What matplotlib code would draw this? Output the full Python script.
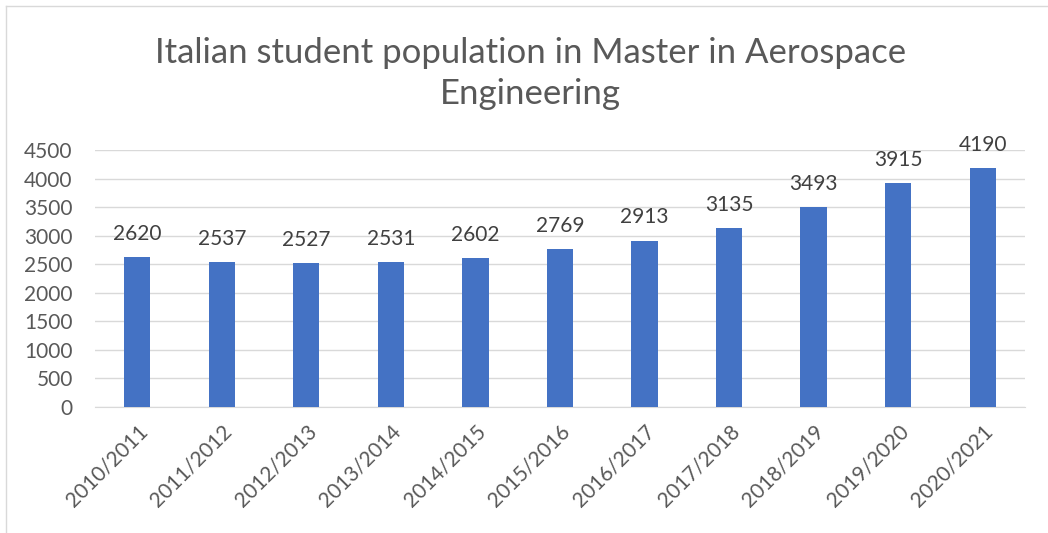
import matplotlib.pyplot as plt

years = ["2010/2011", "2011/2012", "2012/2013", "2013/2014", "2014/2015", "2015/2016",
         "2016/2017", "2017/2018", "2018/2019", "2019/2020", "2020/2021"]
students = [2620, 2537, 2527, 2531, 2602, 2769, 2913, 3135, 3493, 3915, 4190]
yticks = [0, 500, 1000, 1500, 2000, 2500, 3000, 3500, 4000, 4500]

plt.rcParams['font.family'] = ['Lato', 'DejaVu Sans']
text_col = '#595959'

fig = plt.figure(figsize=(10.48, 5.33), dpi=100)
ax = fig.add_axes([0.0906, 0.2364, 0.8874, 0.4822])

x = list(range(len(years)))
bars = ax.bar(x, students, width=0.31, color='#4472C4', zorder=3)
for xi, v in zip(x, students):
    ax.text(xi, v + 230, str(v), ha='center', va='bottom', fontsize=15, color='#404040')

ax.set_xlim(-0.5, len(years) - 0.5)
ax.set_ylim(0, 4500)
ax.set_yticks(yticks)
ax.set_xticks(x)
ax.set_xticklabels(years, rotation=45, ha='right', rotation_mode='anchor')
ax.tick_params(axis='both', length=0, colors=text_col, labelsize=15)
ax.tick_params(axis='x', pad=10)
ax.tick_params(axis='y', pad=16)
ax.grid(axis='y', color='#d9d9d9', linewidth=1, zorder=0)
for s in ['top', 'right', 'left']:
    ax.spines[s].set_visible(False)
ax.spines['bottom'].set_color('#d9d9d9')

fig.text(0.506, 0.862, "Italian student population in Master in Aerospace\nEngineering",
         ha='center', va='center', fontsize=25, color=text_col, linespacing=1.35)

# chart frame (partly cropped in the original)
fig.add_artist(plt.Line2D([0.006, 0.006], [0, 0.988], color='#d9d9d9', lw=1))
fig.add_artist(plt.Line2D([0.006, 1.0], [0.988, 0.988], color='#d9d9d9', lw=1))

fig.savefig('out.png', dpi=100)
